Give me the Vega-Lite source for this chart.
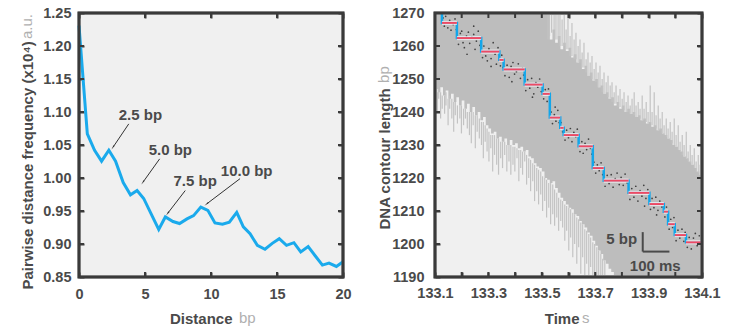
{
  "$schema": "https://vega.github.io/schema/vega-lite/v6.json",
  "padding": {"left": 18, "top": 3, "right": 0, "bottom": 0},
  "spacing": 22,
  "background": "#ffffff",
  "config": {
    "view": {"fill": "#f0f0f0", "stroke": "#3a3a3a", "strokeWidth": 2.5},
    "axis": {
      "labelFont": "Liberation Sans", "labelFontWeight": "bold", "labelFontSize": 14.5, "labelColor": "#4a4a4a",
      "titleFont": "Liberation Sans", "titleFontWeight": "bold", "titleFontSize": 15, "titleColor": "#4a4a4a",
      "ticks": true, "tickColor": "#3a3a3a", "tickOpacity": 1, "tickWidth": 2, "tickSize": -5,
      "domain": false, "grid": false, "labelFlush": false, "labelOverlap": false
    },
    "text": {"font": "Liberation Sans"}
  },
  "hconcat": [
    {
      "width": 264, "height": 264,
      "layer": [
        {
          "data": {"values": [
            {"d": 0, "f": 1.231}, {"d": 0.63, "f": 1.067}, {"d": 1.18, "f": 1.042}, {"d": 1.71, "f": 1.0255},
            {"d": 2.26, "f": 1.042}, {"d": 2.77, "f": 1.0255}, {"d": 3.35, "f": 0.993}, {"d": 3.9, "f": 0.9745},
            {"d": 4.4, "f": 0.981}, {"d": 4.9, "f": 0.969}, {"d": 5.53, "f": 0.943}, {"d": 6.04, "f": 0.922},
            {"d": 6.54, "f": 0.941}, {"d": 7.12, "f": 0.934}, {"d": 7.62, "f": 0.931}, {"d": 8.18, "f": 0.938},
            {"d": 8.68, "f": 0.943}, {"d": 9.23, "f": 0.956}, {"d": 9.76, "f": 0.951}, {"d": 10.3, "f": 0.932},
            {"d": 10.87, "f": 0.93}, {"d": 11.39, "f": 0.933}, {"d": 11.95, "f": 0.948}, {"d": 12.45, "f": 0.926},
            {"d": 12.96, "f": 0.9155}, {"d": 13.51, "f": 0.898}, {"d": 14.09, "f": 0.892}, {"d": 14.64, "f": 0.901},
            {"d": 15.17, "f": 0.908}, {"d": 15.72, "f": 0.898}, {"d": 16.28, "f": 0.902}, {"d": 16.8, "f": 0.888},
            {"d": 17.36, "f": 0.896}, {"d": 17.86, "f": 0.883}, {"d": 18.44, "f": 0.868}, {"d": 18.94, "f": 0.871},
            {"d": 19.5, "f": 0.866}, {"d": 20, "f": 0.873}
          ]},
          "mark": {"type": "line", "color": "#1aaaec", "strokeWidth": 3},
          "encoding": {
            "x": {"field": "d", "type": "quantitative", "scale": {"domain": [0, 20], "nice": false},
              "axis": {"values": [0, 5, 10, 15, 20], "labelPadding": 15, "title": "Distance", "titleAlign": "right", "titleX": 153, "titleY": 46, "titleBaseline": "alphabetic"}},
            "y": {"field": "f", "type": "quantitative", "scale": {"domain": [0.85, 1.25], "nice": false, "zero": false},
              "axis": {"values": [0.85, 0.9, 0.95, 1.0, 1.05, 1.1, 1.15, 1.2, 1.25], "format": ".2f", "labelPadding": 13,
                "title": "Pairwise distance frequency (x10⁴)", "titleAlign": "left", "titleAngle": -90, "titleX": -47, "titleY": 276, "titleBaseline": "alphabetic"}}
          }
        },
        {
          "data": {"values": [
            {"x": 3.77, "y": 1.082, "x2": 2.59, "y2": 1.047},
            {"x": 6.11, "y": 1.029, "x2": 4.86, "y2": 0.994},
            {"x": 8.05, "y": 0.981, "x2": 6.74, "y2": 0.947},
            {"x": 12.2, "y": 0.999, "x2": 9.69, "y2": 0.961}
          ]},
          "layer": [
            {
              "mark": {"type": "rule", "color": "#333333", "strokeWidth": 1},
              "encoding": {
                "x": {"field": "x", "type": "quantitative", "axis": null},
                "y": {"field": "y", "type": "quantitative", "axis": null},
                "x2": {"field": "x2"}, "y2": {"field": "y2"}
              }
            },
            {
              "transform": [{"calculate": "atan2((datum.x2 - datum.x) * 13.2, (datum.y2 - datum.y) * 660) * 180 / PI", "as": "ang"}],
              "mark": {"type": "point", "shape": "wedge", "filled": true, "color": "#333333", "size": 30, "opacity": 1},
              "encoding": {
                "x": {"field": "x2", "type": "quantitative", "axis": null},
                "y": {"field": "y2", "type": "quantitative", "axis": null},
                "angle": {"field": "ang", "type": "quantitative", "scale": null}
              }
            }
          ]
        },
        {
          "data": {"values": [
            {"x": 4.65, "y": 1.095, "label": "2.5 bp"},
            {"x": 6.92, "y": 1.042, "label": "5.0 bp"},
            {"x": 8.8, "y": 0.995, "label": "7.5 bp"},
            {"x": 12.7, "y": 1.01, "label": "10.0 bp"}
          ]},
          "mark": {"type": "text", "fontSize": 15, "fontWeight": "bold", "color": "#4a4a4a", "align": "center", "baseline": "middle"},
          "encoding": {
            "x": {"field": "x", "type": "quantitative", "axis": null},
            "y": {"field": "y", "type": "quantitative", "axis": null},
            "text": {"field": "label"}
          }
        },
        {
          "data": {"values": [{"unit": "bp"}]},
          "mark": {"type": "text", "fontSize": 15, "color": "#b0b0b0", "align": "left", "baseline": "alphabetic", "clip": false},
          "encoding": {"x": {"datum": 12.12, "type": "quantitative", "axis": null}, "y": {"datum": 0.78, "type": "quantitative", "axis": null}, "text": {"field": "unit"}}
        },
        {
          "data": {"values": [{"unit": "a.u."}]},
          "mark": {"type": "text", "fontSize": 15, "color": "#b0b0b0", "align": "left", "baseline": "alphabetic", "angle": 270, "clip": false},
          "encoding": {"x": {"datum": -3.55, "type": "quantitative", "axis": null}, "y": {"datum": 1.2106, "type": "quantitative", "axis": null}, "text": {"field": "unit"}}
        },
        {
          "data": {"values": [{"v": 5}, {"v": 10}, {"v": 15}]},
          "layer": [
            {"mark": {"type": "tick", "orient": "vertical", "color": "#3a3a3a", "size": 10, "thickness": 2, "opacity": 1, "clip": true},
             "encoding": {"x": {"field": "v", "type": "quantitative", "axis": null}, "y": {"datum": 0.85, "type": "quantitative", "axis": null}}},
            {"mark": {"type": "tick", "orient": "vertical", "color": "#3a3a3a", "size": 10, "thickness": 2, "opacity": 1, "clip": true},
             "encoding": {"x": {"field": "v", "type": "quantitative", "axis": null}, "y": {"datum": 1.25, "type": "quantitative", "axis": null}}}
          ]
        },
        {
          "data": {"values": [{"v": 0.9}, {"v": 0.95}, {"v": 1.0}, {"v": 1.05}, {"v": 1.1}, {"v": 1.15}, {"v": 1.2}]},
          "layer": [
            {"mark": {"type": "tick", "orient": "horizontal", "color": "#3a3a3a", "size": 10, "thickness": 2, "opacity": 1, "clip": true},
             "encoding": {"y": {"field": "v", "type": "quantitative", "axis": null}, "x": {"datum": 0, "type": "quantitative", "axis": null}}},
            {"mark": {"type": "tick", "orient": "horizontal", "color": "#3a3a3a", "size": 10, "thickness": 2, "opacity": 1, "clip": true},
             "encoding": {"y": {"field": "v", "type": "quantitative", "axis": null}, "x": {"datum": 20, "type": "quantitative", "axis": null}}}
          ]
        },
        {
          "data": {"values": [{"d": 0, "f": 0.85}, {"d": 20, "f": 1.25}]},
          "mark": {"type": "point", "opacity": 0},
          "encoding": {
            "x": {"field": "d", "type": "quantitative", "axis": {"orient": "top", "values": [0, 5, 10, 15, 20], "labels": false, "title": null}},
            "y": {"field": "f", "type": "quantitative", "axis": {"orient": "right", "values": [0.85, 0.9, 0.95, 1.0, 1.05, 1.1, 1.15, 1.2, 1.25], "labels": false, "title": null}}
          }
        },
        {
          "data": {"values": [{"x0": 0, "x1": 20, "y0": 0.85, "y1": 1.25}]},
          "mark": {"type": "rect", "filled": false, "stroke": "#3a3a3a", "strokeWidth": 3, "clip": false},
          "encoding": {
            "x": {"field": "x0", "type": "quantitative", "axis": null}, "x2": {"field": "x1"},
            "y": {"field": "y0", "type": "quantitative", "axis": null}, "y2": {"field": "y1"}
          }
        }
      ],
      "resolve": {"axis": {"x": "independent", "y": "independent"}}
    },
    {
      "width": 267, "height": 264,
      "layer": [
        {
          "data": {"values": [
            {"t": 133.10, "lo": 1247, "hi": 1275}, {"t": 133.11, "lo": 1246, "hi": 1275}, {"t": 133.12, "lo": 1247.5, "hi": 1275},
            {"t": 133.13, "lo": 1245, "hi": 1275}, {"t": 133.14, "lo": 1246.5, "hi": 1275}, {"t": 133.15, "lo": 1244, "hi": 1275},
            {"t": 133.16, "lo": 1245.5, "hi": 1275}, {"t": 133.17, "lo": 1243, "hi": 1275}, {"t": 133.18, "lo": 1244.5, "hi": 1275},
            {"t": 133.19, "lo": 1242, "hi": 1275}, {"t": 133.20, "lo": 1243.5, "hi": 1275}, {"t": 133.21, "lo": 1241, "hi": 1275},
            {"t": 133.22, "lo": 1242.5, "hi": 1275}, {"t": 133.23, "lo": 1240, "hi": 1275}, {"t": 133.24, "lo": 1241.5, "hi": 1275},
            {"t": 133.25, "lo": 1239, "hi": 1275}, {"t": 133.26, "lo": 1240, "hi": 1275}, {"t": 133.27, "lo": 1237.5, "hi": 1275},
            {"t": 133.28, "lo": 1238.5, "hi": 1275}, {"t": 133.29, "lo": 1236, "hi": 1275}, {"t": 133.30, "lo": 1235, "hi": 1275},
            {"t": 133.31, "lo": 1233.5, "hi": 1275}, {"t": 133.32, "lo": 1234, "hi": 1275}, {"t": 133.33, "lo": 1232, "hi": 1275},
            {"t": 133.34, "lo": 1232.5, "hi": 1275}, {"t": 133.35, "lo": 1231, "hi": 1275}, {"t": 133.36, "lo": 1232, "hi": 1275},
            {"t": 133.37, "lo": 1230, "hi": 1275}, {"t": 133.38, "lo": 1231.5, "hi": 1275}, {"t": 133.39, "lo": 1230, "hi": 1275},
            {"t": 133.40, "lo": 1230.5, "hi": 1275}, {"t": 133.41, "lo": 1229, "hi": 1275}, {"t": 133.42, "lo": 1229.5, "hi": 1275},
            {"t": 133.43, "lo": 1228, "hi": 1275}, {"t": 133.44, "lo": 1228.5, "hi": 1275}, {"t": 133.45, "lo": 1226.5, "hi": 1275},
            {"t": 133.46, "lo": 1226, "hi": 1275}, {"t": 133.47, "lo": 1224.5, "hi": 1275}, {"t": 133.48, "lo": 1223.5, "hi": 1275},
            {"t": 133.49, "lo": 1223, "hi": 1275}, {"t": 133.50, "lo": 1222, "hi": 1275}, {"t": 133.51, "lo": 1220, "hi": 1275},
            {"t": 133.52, "lo": 1219.5, "hi": 1275}, {"t": 133.53, "lo": 1218.5, "hi": 1262}, {"t": 133.54, "lo": 1219, "hi": 1265},
            {"t": 133.55, "lo": 1217, "hi": 1261}, {"t": 133.56, "lo": 1215.5, "hi": 1263}, {"t": 133.57, "lo": 1214, "hi": 1259},
            {"t": 133.58, "lo": 1213, "hi": 1261}, {"t": 133.59, "lo": 1212, "hi": 1258.5}, {"t": 133.60, "lo": 1211, "hi": 1259.5},
            {"t": 133.61, "lo": 1210.5, "hi": 1256.5}, {"t": 133.62, "lo": 1209, "hi": 1257.5}, {"t": 133.63, "lo": 1208.5, "hi": 1255},
            {"t": 133.64, "lo": 1207, "hi": 1256}, {"t": 133.65, "lo": 1206, "hi": 1253}, {"t": 133.66, "lo": 1205, "hi": 1254},
            {"t": 133.67, "lo": 1203.5, "hi": 1251}, {"t": 133.68, "lo": 1202.5, "hi": 1252}, {"t": 133.69, "lo": 1201, "hi": 1249.5},
            {"t": 133.70, "lo": 1199.5, "hi": 1250}, {"t": 133.71, "lo": 1198, "hi": 1247.5}, {"t": 133.72, "lo": 1197, "hi": 1248},
            {"t": 133.73, "lo": 1195, "hi": 1245.5}, {"t": 133.74, "lo": 1194, "hi": 1246}, {"t": 133.75, "lo": 1192.5, "hi": 1244},
            {"t": 133.76, "lo": 1191.5, "hi": 1244.5}, {"t": 133.77, "lo": 1190.5, "hi": 1242}, {"t": 133.78, "lo": 1185, "hi": 1243},
            {"t": 133.79, "lo": 1185, "hi": 1241}, {"t": 133.80, "lo": 1185, "hi": 1242}, {"t": 133.81, "lo": 1185, "hi": 1240},
            {"t": 133.82, "lo": 1185, "hi": 1241}, {"t": 133.83, "lo": 1185, "hi": 1239.5}, {"t": 133.84, "lo": 1185, "hi": 1240},
            {"t": 133.85, "lo": 1185, "hi": 1238.5}, {"t": 133.86, "lo": 1185, "hi": 1239}, {"t": 133.87, "lo": 1185, "hi": 1237.5},
            {"t": 133.88, "lo": 1185, "hi": 1238}, {"t": 133.89, "lo": 1185, "hi": 1236.5}, {"t": 133.90, "lo": 1185, "hi": 1237},
            {"t": 133.91, "lo": 1185, "hi": 1235.5}, {"t": 133.92, "lo": 1185, "hi": 1236}, {"t": 133.93, "lo": 1185, "hi": 1234.5},
            {"t": 133.94, "lo": 1185, "hi": 1235}, {"t": 133.95, "lo": 1185, "hi": 1233.5}, {"t": 133.96, "lo": 1185, "hi": 1233},
            {"t": 133.97, "lo": 1185, "hi": 1232}, {"t": 133.98, "lo": 1185, "hi": 1231.5}, {"t": 133.99, "lo": 1185, "hi": 1230},
            {"t": 134.00, "lo": 1185, "hi": 1229.5}, {"t": 134.01, "lo": 1185, "hi": 1228.5}, {"t": 134.02, "lo": 1185, "hi": 1228},
            {"t": 134.03, "lo": 1185, "hi": 1226.5}, {"t": 134.04, "lo": 1185, "hi": 1226}, {"t": 134.05, "lo": 1185, "hi": 1225},
            {"t": 134.06, "lo": 1185, "hi": 1224}, {"t": 134.07, "lo": 1185, "hi": 1223}, {"t": 134.08, "lo": 1185, "hi": 1222},
            {"t": 134.09, "lo": 1185, "hi": 1221}, {"t": 134.10, "lo": 1185, "hi": 1221}
          ]},
          "mark": {"type": "area", "color": "#bdbdbd", "interpolate": "step-after", "clip": true},
          "encoding": {
            "x": {"field": "t", "type": "quantitative", "scale": {"domain": [133.1, 134.1], "nice": false, "zero": false},
              "axis": {"values": [133.1, 133.2, 133.3, 133.4, 133.5, 133.6, 133.7, 133.8, 133.9, 134.0, 134.1],
                "labelExpr": "(round(datum.value * 10) % 2 == 1) ? format(datum.value, '.1f') : ''", "labelPadding": 14,
                "title": "Time", "titleAlign": "right", "titleX": 144, "titleY": 46, "titleBaseline": "alphabetic"}},
            "y": {"field": "lo", "type": "quantitative", "scale": {"domain": [1190, 1270], "nice": false, "zero": false},
              "axis": {"values": [1190, 1200, 1210, 1220, 1230, 1240, 1250, 1260, 1270], "format": "d", "labelPadding": 16,
                "title": "DNA contour length", "titleAlign": "left", "titleAngle": -90, "titleX": -46, "titleY": 216, "titleBaseline": "alphabetic"}},
            "y2": {"field": "hi"}
          }
        },
        {
          "data": {"values": [
            {"t": 133.103, "a": 1247, "b": 1243}, {"t": 133.109, "a": 1246, "b": 1240}, {"t": 133.114, "a": 1247, "b": 1244},
            {"t": 133.121, "a": 1246, "b": 1238}, {"t": 133.127, "a": 1245, "b": 1241}, {"t": 133.136, "a": 1245, "b": 1239.5},
            {"t": 133.141, "a": 1246, "b": 1242}, {"t": 133.149, "a": 1244, "b": 1236}, {"t": 133.155, "a": 1245, "b": 1241},
            {"t": 133.163, "a": 1244, "b": 1238}, {"t": 133.170, "a": 1243, "b": 1234}, {"t": 133.176, "a": 1243, "b": 1239},
            {"t": 133.184, "a": 1242, "b": 1236.5}, {"t": 133.193, "a": 1242, "b": 1238}, {"t": 133.199, "a": 1242, "b": 1233.5},
            {"t": 133.207, "a": 1241, "b": 1236}, {"t": 133.214, "a": 1241, "b": 1238}, {"t": 133.221, "a": 1240, "b": 1235},
            {"t": 133.229, "a": 1240, "b": 1233}, {"t": 133.236, "a": 1240, "b": 1230.5}, {"t": 133.243, "a": 1240, "b": 1236},
            {"t": 133.251, "a": 1239, "b": 1229}, {"t": 133.258, "a": 1239, "b": 1234}, {"t": 133.266, "a": 1238, "b": 1232},
            {"t": 133.274, "a": 1237, "b": 1230}, {"t": 133.281, "a": 1237, "b": 1226}, {"t": 133.288, "a": 1236, "b": 1231},
            {"t": 133.295, "a": 1235, "b": 1228}, {"t": 133.302, "a": 1234, "b": 1225}, {"t": 133.309, "a": 1233, "b": 1229},
            {"t": 133.316, "a": 1233, "b": 1222}, {"t": 133.323, "a": 1233, "b": 1227}, {"t": 133.331, "a": 1232, "b": 1224},
            {"t": 133.338, "a": 1232, "b": 1221}, {"t": 133.346, "a": 1231, "b": 1226}, {"t": 133.353, "a": 1231, "b": 1223},
            {"t": 133.361, "a": 1231, "b": 1227}, {"t": 133.369, "a": 1230, "b": 1222}, {"t": 133.377, "a": 1230, "b": 1225},
            {"t": 133.384, "a": 1230, "b": 1221}, {"t": 133.392, "a": 1229.5, "b": 1224}, {"t": 133.399, "a": 1229.5, "b": 1222},
            {"t": 133.407, "a": 1229, "b": 1226}, {"t": 133.414, "a": 1228.5, "b": 1219}, {"t": 133.421, "a": 1228.5, "b": 1223},
            {"t": 133.428, "a": 1228, "b": 1221}, {"t": 133.436, "a": 1228, "b": 1225}, {"t": 133.443, "a": 1227, "b": 1218},
            {"t": 133.451, "a": 1226, "b": 1220}, {"t": 133.458, "a": 1225.5, "b": 1216}, {"t": 133.466, "a": 1224.5, "b": 1219},
            {"t": 133.473, "a": 1224, "b": 1213}, {"t": 133.481, "a": 1223, "b": 1216}, {"t": 133.488, "a": 1222.5, "b": 1212},
            {"t": 133.496, "a": 1222, "b": 1215}, {"t": 133.503, "a": 1220.5, "b": 1210}, {"t": 133.511, "a": 1220, "b": 1213},
            {"t": 133.518, "a": 1219.5, "b": 1208}, {"t": 133.526, "a": 1218.5, "b": 1211}, {"t": 133.533, "a": 1218.5, "b": 1206},
            {"t": 133.541, "a": 1218, "b": 1209}, {"t": 133.548, "a": 1216.5, "b": 1205.5}, {"t": 133.556, "a": 1215.5, "b": 1208},
            {"t": 133.563, "a": 1214, "b": 1204}, {"t": 133.571, "a": 1213.5, "b": 1207}, {"t": 133.578, "a": 1213, "b": 1205},
            {"t": 133.586, "a": 1212, "b": 1201}, {"t": 133.593, "a": 1211.5, "b": 1204}, {"t": 133.601, "a": 1211, "b": 1198},
            {"t": 133.608, "a": 1210.5, "b": 1202}, {"t": 133.616, "a": 1209.5, "b": 1196}, {"t": 133.623, "a": 1209, "b": 1200},
            {"t": 133.631, "a": 1208, "b": 1194}, {"t": 133.638, "a": 1207.5, "b": 1199}, {"t": 133.646, "a": 1206.5, "b": 1191},
            {"t": 133.653, "a": 1206, "b": 1196}, {"t": 133.661, "a": 1204.5, "b": 1190}, {"t": 133.668, "a": 1204, "b": 1194},
            {"t": 133.676, "a": 1203, "b": 1190}, {"t": 133.683, "a": 1202, "b": 1193}, {"t": 133.691, "a": 1200.5, "b": 1190},
            {"t": 133.698, "a": 1200, "b": 1190}, {"t": 133.706, "a": 1199, "b": 1190}, {"t": 133.713, "a": 1198, "b": 1190},
            {"t": 133.721, "a": 1197, "b": 1190}, {"t": 133.728, "a": 1195.5, "b": 1190}, {"t": 133.736, "a": 1195, "b": 1190},
            {"t": 133.523, "a": 1262, "b": 1270}, {"t": 133.529, "a": 1263, "b": 1270}, {"t": 133.537, "a": 1264, "b": 1270},
            {"t": 133.546, "a": 1262, "b": 1270}, {"t": 133.553, "a": 1262, "b": 1270}, {"t": 133.561, "a": 1262, "b": 1270},
            {"t": 133.568, "a": 1260, "b": 1270}, {"t": 133.576, "a": 1260, "b": 1268}, {"t": 133.584, "a": 1260, "b": 1270},
            {"t": 133.591, "a": 1259, "b": 1265}, {"t": 133.598, "a": 1259, "b": 1270}, {"t": 133.606, "a": 1257, "b": 1263},
            {"t": 133.613, "a": 1257, "b": 1267}, {"t": 133.621, "a": 1256, "b": 1262}, {"t": 133.628, "a": 1256, "b": 1264},
            {"t": 133.636, "a": 1255, "b": 1260}, {"t": 133.643, "a": 1255, "b": 1262}, {"t": 133.651, "a": 1253.5, "b": 1258},
            {"t": 133.658, "a": 1253.5, "b": 1261}, {"t": 133.666, "a": 1252, "b": 1256}, {"t": 133.673, "a": 1251, "b": 1258},
            {"t": 133.681, "a": 1251, "b": 1255}, {"t": 133.688, "a": 1250, "b": 1257}, {"t": 133.696, "a": 1249.5, "b": 1253},
            {"t": 133.703, "a": 1249, "b": 1255}, {"t": 133.711, "a": 1247.5, "b": 1252}, {"t": 133.718, "a": 1247.5, "b": 1254},
            {"t": 133.726, "a": 1246, "b": 1250}, {"t": 133.733, "a": 1245.5, "b": 1252}, {"t": 133.741, "a": 1245.5, "b": 1249},
            {"t": 133.748, "a": 1244.5, "b": 1251}, {"t": 133.756, "a": 1244, "b": 1248}, {"t": 133.763, "a": 1243, "b": 1249},
            {"t": 133.771, "a": 1242.5, "b": 1246}, {"t": 133.778, "a": 1242.5, "b": 1248}, {"t": 133.786, "a": 1241.5, "b": 1245},
            {"t": 133.793, "a": 1241.5, "b": 1247}, {"t": 133.801, "a": 1241, "b": 1244}, {"t": 133.808, "a": 1240.5, "b": 1246},
            {"t": 133.816, "a": 1240, "b": 1243}, {"t": 133.823, "a": 1240, "b": 1245}, {"t": 133.831, "a": 1239.5, "b": 1242},
            {"t": 133.838, "a": 1239.5, "b": 1244}, {"t": 133.846, "a": 1239, "b": 1246}, {"t": 133.853, "a": 1238.5, "b": 1242},
            {"t": 133.861, "a": 1238.5, "b": 1243}, {"t": 133.868, "a": 1238, "b": 1241}, {"t": 133.876, "a": 1237.5, "b": 1245},
            {"t": 133.883, "a": 1237.5, "b": 1241}, {"t": 133.891, "a": 1237, "b": 1243}, {"t": 133.898, "a": 1236.5, "b": 1240},
            {"t": 133.906, "a": 1236.5, "b": 1248}, {"t": 133.913, "a": 1236, "b": 1240}, {"t": 133.921, "a": 1235.5, "b": 1246},
            {"t": 133.928, "a": 1235, "b": 1239}, {"t": 133.936, "a": 1234.5, "b": 1242}, {"t": 133.943, "a": 1234.5, "b": 1238},
            {"t": 133.951, "a": 1233.5, "b": 1240}, {"t": 133.958, "a": 1233, "b": 1236}, {"t": 133.966, "a": 1232.5, "b": 1238},
            {"t": 133.973, "a": 1232, "b": 1235}, {"t": 133.981, "a": 1231.5, "b": 1237}, {"t": 133.988, "a": 1230.5, "b": 1234},
            {"t": 133.996, "a": 1230, "b": 1238}, {"t": 134.003, "a": 1229.5, "b": 1233}, {"t": 134.011, "a": 1228.5, "b": 1236},
            {"t": 134.018, "a": 1228, "b": 1231}, {"t": 134.026, "a": 1227, "b": 1233}, {"t": 134.033, "a": 1226.5, "b": 1230},
            {"t": 134.041, "a": 1226, "b": 1234}, {"t": 134.048, "a": 1225, "b": 1228}, {"t": 134.056, "a": 1224.5, "b": 1230},
            {"t": 134.063, "a": 1224, "b": 1227}, {"t": 134.071, "a": 1223, "b": 1229}, {"t": 134.078, "a": 1222, "b": 1225},
            {"t": 134.086, "a": 1221.5, "b": 1227}, {"t": 134.093, "a": 1221, "b": 1224}
          ]},
          "mark": {"type": "rule", "color": "#c3c3c3", "strokeWidth": 1.2, "clip": true},
          "encoding": {
            "x": {"field": "t", "type": "quantitative", "axis": null},
            "y": {"field": "a", "type": "quantitative", "axis": null},
            "y2": {"field": "b"}
          }
        },
        {
          "data": {"values": [
            {"t": 133.13, "v": 1268.5}, {"t": 133.135, "v": 1266}, {"t": 133.14, "v": 1269}, {"t": 133.148, "v": 1265.5}, {"t": 133.155, "v": 1267.8},
            {"t": 133.16, "v": 1264.8}, {"t": 133.168, "v": 1266.5}, {"t": 133.175, "v": 1268.2}, {"t": 133.18, "v": 1265},
            {"t": 133.188, "v": 1260.5}, {"t": 133.195, "v": 1263.8}, {"t": 133.2, "v": 1264.5}, {"t": 133.205, "v": 1261}, {"t": 133.21, "v": 1259.5},
            {"t": 133.218, "v": 1263}, {"t": 133.225, "v": 1264.2}, {"t": 133.23, "v": 1260.8}, {"t": 133.238, "v": 1262.8}, {"t": 133.245, "v": 1263.5},
            {"t": 133.25, "v": 1259}, {"t": 133.255, "v": 1261.5}, {"t": 133.262, "v": 1264.5}, {"t": 133.268, "v": 1260.2}, {"t": 133.22, "v": 1257.5}, {"t": 133.245, "v": 1266},
            {"t": 133.278, "v": 1256.5}, {"t": 133.283, "v": 1260}, {"t": 133.29, "v": 1257}, {"t": 133.296, "v": 1255.5}, {"t": 133.302, "v": 1259.2},
            {"t": 133.31, "v": 1256.2}, {"t": 133.318, "v": 1261}, {"t": 133.325, "v": 1257.5}, {"t": 133.33, "v": 1254.5}, {"t": 133.336, "v": 1259.5}, {"t": 133.31, "v": 1253.8},
            {"t": 133.345, "v": 1254}, {"t": 133.35, "v": 1257.2}, {"t": 133.355, "v": 1253.5},
            {"t": 133.362, "v": 1251}, {"t": 133.37, "v": 1254.2}, {"t": 133.378, "v": 1250.5}, {"t": 133.385, "v": 1253.8}, {"t": 133.392, "v": 1255},
            {"t": 133.398, "v": 1251.5}, {"t": 133.405, "v": 1252.2}, {"t": 133.412, "v": 1254.6}, {"t": 133.42, "v": 1250.2}, {"t": 133.428, "v": 1253.2},
            {"t": 133.432, "v": 1251.2}, {"t": 133.388, "v": 1249.2},
            {"t": 133.44, "v": 1246.5}, {"t": 133.447, "v": 1249.8}, {"t": 133.455, "v": 1247.2}, {"t": 133.462, "v": 1250.2}, {"t": 133.47, "v": 1245.5},
            {"t": 133.478, "v": 1248.9}, {"t": 133.485, "v": 1247.5}, {"t": 133.492, "v": 1250}, {"t": 133.498, "v": 1246.2}, {"t": 133.465, "v": 1244.5},
            {"t": 133.507, "v": 1244}, {"t": 133.513, "v": 1246.8}, {"t": 133.52, "v": 1243.2}, {"t": 133.525, "v": 1247},
            {"t": 133.535, "v": 1240}, {"t": 133.54, "v": 1236.5}, {"t": 133.547, "v": 1239.2}, {"t": 133.553, "v": 1237.2}, {"t": 133.56, "v": 1240.5},
            {"t": 133.565, "v": 1236.8}, {"t": 133.55, "v": 1241.5},
            {"t": 133.572, "v": 1236.8}, {"t": 133.578, "v": 1234},
            {"t": 133.587, "v": 1231.5}, {"t": 133.593, "v": 1234.5}, {"t": 133.6, "v": 1232.2}, {"t": 133.607, "v": 1235}, {"t": 133.613, "v": 1231},
            {"t": 133.62, "v": 1233.8}, {"t": 133.627, "v": 1232.5}, {"t": 133.633, "v": 1234.8},
            {"t": 133.643, "v": 1228}, {"t": 133.65, "v": 1231}, {"t": 133.655, "v": 1227.5}, {"t": 133.662, "v": 1230.5}, {"t": 133.668, "v": 1228.6},
            {"t": 133.675, "v": 1231.8}, {"t": 133.682, "v": 1229}, {"t": 133.688, "v": 1227.2},
            {"t": 133.695, "v": 1224.8}, {"t": 133.702, "v": 1221.5}, {"t": 133.708, "v": 1224}, {"t": 133.715, "v": 1222.2}, {"t": 133.722, "v": 1224.6}, {"t": 133.728, "v": 1221},
            {"t": 133.737, "v": 1217.5}, {"t": 133.745, "v": 1220.8}, {"t": 133.752, "v": 1218.3}, {"t": 133.76, "v": 1221}, {"t": 133.767, "v": 1217.2},
            {"t": 133.775, "v": 1219.8}, {"t": 133.782, "v": 1221.5}, {"t": 133.79, "v": 1218}, {"t": 133.797, "v": 1220.2}, {"t": 133.805, "v": 1217.8},
            {"t": 133.812, "v": 1221.2}, {"t": 133.82, "v": 1218.5},
            {"t": 133.83, "v": 1213.5}, {"t": 133.837, "v": 1216.8}, {"t": 133.845, "v": 1214.2}, {"t": 133.852, "v": 1217.5}, {"t": 133.86, "v": 1213},
            {"t": 133.868, "v": 1216.2}, {"t": 133.875, "v": 1214.5}, {"t": 133.882, "v": 1217.8}, {"t": 133.89, "v": 1213.8}, {"t": 133.897, "v": 1216.5}, {"t": 133.885, "v": 1211.5},
            {"t": 133.907, "v": 1210.5}, {"t": 133.913, "v": 1213.8}, {"t": 133.92, "v": 1211}, {"t": 133.927, "v": 1214.2}, {"t": 133.935, "v": 1210.2},
            {"t": 133.942, "v": 1213}, {"t": 133.95, "v": 1211.2}, {"t": 133.93, "v": 1208.8},
            {"t": 133.961, "v": 1208.2}, {"t": 133.967, "v": 1211.2},
            {"t": 133.977, "v": 1204.5}, {"t": 133.983, "v": 1207.5}, {"t": 133.99, "v": 1205}, {"t": 133.995, "v": 1208},
            {"t": 134.003, "v": 1201}, {"t": 134.01, "v": 1204.2}, {"t": 134.017, "v": 1201.8}, {"t": 134.025, "v": 1204.5}, {"t": 134.032, "v": 1200.8}, {"t": 134.037, "v": 1203.5},
            {"t": 134.045, "v": 1199}, {"t": 134.052, "v": 1202}, {"t": 134.06, "v": 1198.5}, {"t": 134.068, "v": 1201.8}, {"t": 134.075, "v": 1203.2},
            {"t": 134.082, "v": 1199.5}, {"t": 134.09, "v": 1202.5}
          ]},
          "mark": {"type": "circle", "color": "#333333", "size": 3, "opacity": 0.9, "clip": true},
          "encoding": {
            "x": {"field": "t", "type": "quantitative", "axis": null},
            "y": {"field": "v", "type": "quantitative", "axis": null}
          }
        },
        {
          "data": {"values": [
            {"t": 133.10, "v": 1275}, {"t": 133.126, "v": 1267.0}, {"t": 133.182, "v": 1262.4}, {"t": 133.273, "v": 1258.3},
            {"t": 133.341, "v": 1255.8}, {"t": 133.357, "v": 1252.9}, {"t": 133.436, "v": 1248.3}, {"t": 133.503, "v": 1245.5},
            {"t": 133.530, "v": 1238.3}, {"t": 133.569, "v": 1235.2}, {"t": 133.582, "v": 1233.0}, {"t": 133.638, "v": 1229.6},
            {"t": 133.691, "v": 1223.0}, {"t": 133.732, "v": 1219.2}, {"t": 133.825, "v": 1215.5}, {"t": 133.903, "v": 1212.1},
            {"t": 133.957, "v": 1209.8}, {"t": 133.973, "v": 1206.0}, {"t": 133.998, "v": 1202.7}, {"t": 134.040, "v": 1200.5},
            {"t": 134.095, "v": 1200.5}
          ]},
          "mark": {"type": "line", "color": "#12a6ea", "strokeWidth": 2.5, "interpolate": "step-after", "clip": true},
          "encoding": {
            "x": {"field": "t", "type": "quantitative", "axis": null},
            "y": {"field": "v", "type": "quantitative", "axis": null}
          }
        },
        {
          "data": {"values": [
            {"t0": 133.126, "t1": 133.182, "v": 1267.0}, {"t0": 133.182, "t1": 133.273, "v": 1262.4}, {"t0": 133.273, "t1": 133.341, "v": 1258.3},
            {"t0": 133.341, "t1": 133.357, "v": 1255.8}, {"t0": 133.357, "t1": 133.436, "v": 1252.9}, {"t0": 133.436, "t1": 133.503, "v": 1248.3},
            {"t0": 133.503, "t1": 133.530, "v": 1245.5}, {"t0": 133.530, "t1": 133.569, "v": 1238.3}, {"t0": 133.569, "t1": 133.582, "v": 1235.2},
            {"t0": 133.582, "t1": 133.638, "v": 1233.0}, {"t0": 133.638, "t1": 133.691, "v": 1229.6}, {"t0": 133.691, "t1": 133.732, "v": 1223.0},
            {"t0": 133.732, "t1": 133.825, "v": 1219.2}, {"t0": 133.825, "t1": 133.903, "v": 1215.5}, {"t0": 133.903, "t1": 133.957, "v": 1212.1},
            {"t0": 133.957, "t1": 133.973, "v": 1209.8}, {"t0": 133.973, "t1": 133.998, "v": 1206.0}, {"t0": 133.998, "t1": 134.040, "v": 1202.7},
            {"t0": 134.040, "t1": 134.095, "v": 1200.5}
          ]},
          "layer": [
            {
              "mark": {"type": "rule", "color": "#ffffff", "strokeWidth": 4, "opacity": 0.75, "clip": true},
              "encoding": {
                "x": {"field": "t0", "type": "quantitative", "axis": null}, "x2": {"field": "t1"},
                "y": {"field": "v", "type": "quantitative", "axis": null}
              }
            },
            {
              "mark": {"type": "rule", "color": "#ec4a64", "strokeWidth": 2, "clip": true},
              "encoding": {
                "x": {"field": "t0", "type": "quantitative", "axis": null}, "x2": {"field": "t1"},
                "y": {"field": "v", "type": "quantitative", "axis": null}
              }
            }
          ]
        },
        {
          "data": {"values": [
            {"x": 133.878, "x2": 133.878, "y": 1197.7, "y2": 1203.6},
            {"x": 133.878, "x2": 133.978, "y": 1197.7, "y2": 1197.7}
          ]},
          "mark": {"type": "rule", "color": "#4a4a4a", "strokeWidth": 2},
          "encoding": {
            "x": {"field": "x", "type": "quantitative", "axis": null}, "x2": {"field": "x2"},
            "y": {"field": "y", "type": "quantitative", "axis": null}, "y2": {"field": "y2"}
          }
        },
        {
          "data": {"values": [
            {"x": 133.857, "y": 1201.6, "label": "5 bp", "al": "right"},
            {"x": 133.925, "y": 1193.2, "label": "100 ms", "al": "center"}
          ]},
          "layer": [
            {
              "transform": [{"filter": "datum.al == 'right'"}],
              "mark": {"type": "text", "fontSize": 15, "fontWeight": "bold", "color": "#4a4a4a", "align": "right", "baseline": "middle"},
              "encoding": {"x": {"field": "x", "type": "quantitative", "axis": null}, "y": {"field": "y", "type": "quantitative", "axis": null}, "text": {"field": "label"}}
            },
            {
              "transform": [{"filter": "datum.al == 'center'"}],
              "mark": {"type": "text", "fontSize": 15, "fontWeight": "bold", "color": "#4a4a4a", "align": "center", "baseline": "middle"},
              "encoding": {"x": {"field": "x", "type": "quantitative", "axis": null}, "y": {"field": "y", "type": "quantitative", "axis": null}, "text": {"field": "label"}}
            }
          ]
        },
        {
          "data": {"values": [{"unit": "s"}]},
          "mark": {"type": "text", "fontSize": 15, "color": "#b0b0b0", "align": "left", "baseline": "alphabetic", "clip": false},
          "encoding": {"x": {"datum": 133.651, "type": "quantitative", "axis": null}, "y": {"datum": 1176.1, "type": "quantitative", "axis": null}, "text": {"field": "unit"}}
        },
        {
          "data": {"values": [{"unit": "bp"}]},
          "mark": {"type": "text", "fontSize": 15, "color": "#b0b0b0", "align": "left", "baseline": "alphabetic", "angle": 270, "clip": false},
          "encoding": {"x": {"datum": 132.928, "type": "quantitative", "axis": null}, "y": {"datum": 1248.8, "type": "quantitative", "axis": null}, "text": {"field": "unit"}}
        },
        {
          "data": {"values": [{"v": 133.2}, {"v": 133.3}, {"v": 133.4}, {"v": 133.5}, {"v": 133.6}, {"v": 133.7}, {"v": 133.8}, {"v": 133.9}, {"v": 134.0}]},
          "layer": [
            {"mark": {"type": "tick", "orient": "vertical", "color": "#3a3a3a", "size": 10, "thickness": 2, "opacity": 1, "clip": true},
             "encoding": {"x": {"field": "v", "type": "quantitative", "axis": null}, "y": {"datum": 1190, "type": "quantitative", "axis": null}}},
            {"mark": {"type": "tick", "orient": "vertical", "color": "#3a3a3a", "size": 10, "thickness": 2, "opacity": 1, "clip": true},
             "encoding": {"x": {"field": "v", "type": "quantitative", "axis": null}, "y": {"datum": 1270, "type": "quantitative", "axis": null}}}
          ]
        },
        {
          "data": {"values": [{"v": 1200}, {"v": 1210}, {"v": 1220}, {"v": 1230}, {"v": 1240}, {"v": 1250}, {"v": 1260}]},
          "layer": [
            {"mark": {"type": "tick", "orient": "horizontal", "color": "#3a3a3a", "size": 10, "thickness": 2, "opacity": 1, "clip": true},
             "encoding": {"y": {"field": "v", "type": "quantitative", "axis": null}, "x": {"datum": 133.1, "type": "quantitative", "axis": null}}},
            {"mark": {"type": "tick", "orient": "horizontal", "color": "#3a3a3a", "size": 10, "thickness": 2, "opacity": 1, "clip": true},
             "encoding": {"y": {"field": "v", "type": "quantitative", "axis": null}, "x": {"datum": 134.1, "type": "quantitative", "axis": null}}}
          ]
        },
        {
          "data": {"values": [{"t": 133.1, "v": 1190}, {"t": 134.1, "v": 1270}]},
          "mark": {"type": "point", "opacity": 0},
          "encoding": {
            "x": {"field": "t", "type": "quantitative", "axis": {"orient": "top", "values": [133.1, 133.2, 133.3, 133.4, 133.5, 133.6, 133.7, 133.8, 133.9, 134.0, 134.1], "labels": false, "title": null}},
            "y": {"field": "v", "type": "quantitative", "axis": {"orient": "right", "values": [1190, 1200, 1210, 1220, 1230, 1240, 1250, 1260, 1270], "labels": false, "title": null}}
          }
        },
        {
          "data": {"values": [{"x0": 133.1, "x1": 134.1, "y0": 1190, "y1": 1270}]},
          "mark": {"type": "rect", "filled": false, "stroke": "#3a3a3a", "strokeWidth": 3, "clip": false},
          "encoding": {
            "x": {"field": "x0", "type": "quantitative", "axis": null}, "x2": {"field": "x1"},
            "y": {"field": "y0", "type": "quantitative", "axis": null}, "y2": {"field": "y1"}
          }
        }
      ],
      "resolve": {"axis": {"x": "independent", "y": "independent"}}
    }
  ]
}
